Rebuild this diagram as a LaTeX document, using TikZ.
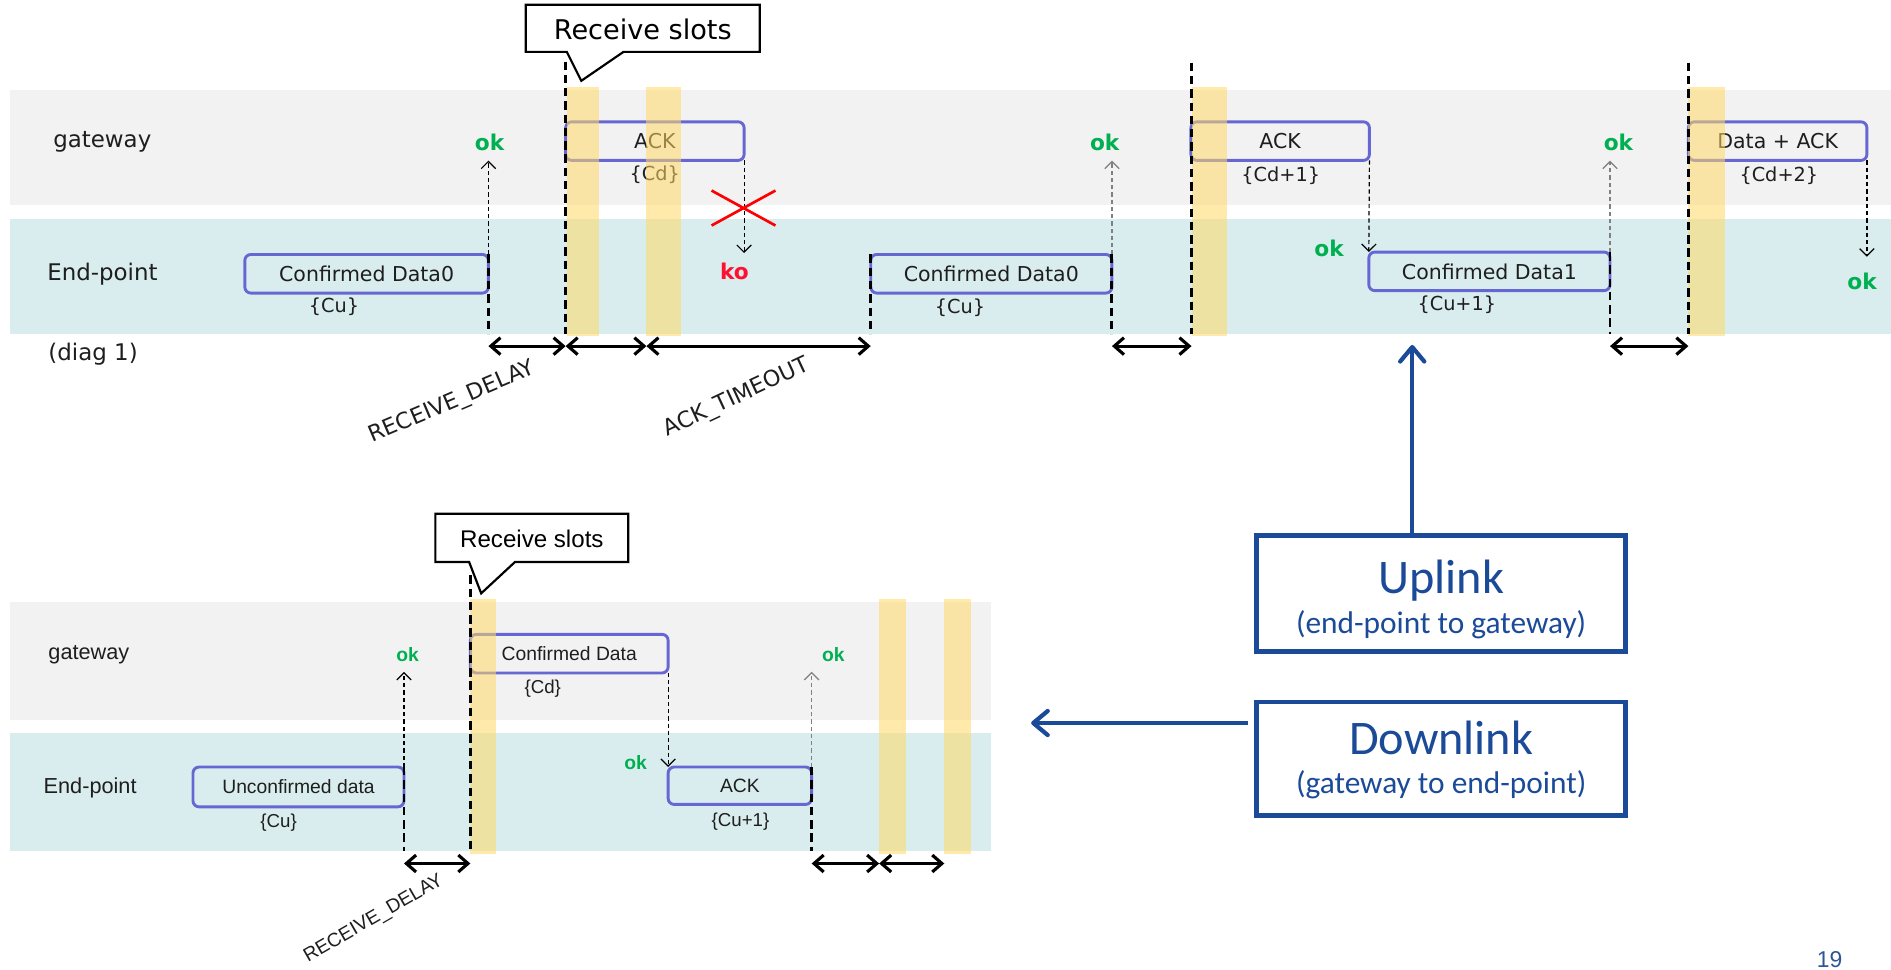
\documentclass[tikz,border=0pt]{standalone}
\usepackage{fontspec}
\setmainfont{DejaVu Sans}
\newfontfamily\vfont{DejaVu Sans}
\newfontfamily\afont{Liberation Sans}
\newfontfamily\cfont{Carlito}
\usetikzlibrary{arrows.meta}
\newcommand\sz[1]{\fontsize{#1}{#1}\selectfont}

\definecolor{gwband}{HTML}{F2F2F2}
\definecolor{epband}{HTML}{DAEDEE}
\definecolor{slot}{HTML}{FFD966}
\definecolor{boxline}{HTML}{6767D3}
\definecolor{okgreen}{HTML}{00B050}
\definecolor{kored}{HTML}{FF1030}
\definecolor{linkblue}{HTML}{1A4A98}
\definecolor{pagenum}{HTML}{2F5597}
\definecolor{txt}{HTML}{1E1E1E}

\begin{document}
\begin{tikzpicture}[x=1pt,y=-1pt,
  band/.style={fill=#1, draw=none, inner sep=0pt, outer sep=0pt, anchor=north west},
  msgbox/.style={draw=boxline, line width=2.4pt, rounded corners=5pt, inner sep=0pt, outer sep=0pt, text=txt},
  topmsg/.style={msgbox, font=\vfont\sz{17}},
  botmsg/.style={msgbox, font=\afont\sz{16}},
  toplane/.style={font=\vfont\sz{19}, text=txt, inner sep=0pt, anchor=west},
  botlane/.style={font=\afont\sz{18}, text=txt, inner sep=0pt, anchor=west},
  topsub/.style={font=\vfont\sz{16}, text=txt, inner sep=0pt},
  botsub/.style={font=\afont\sz{15.5}, text=txt, inner sep=0pt},
  topok/.style={font=\vfont\bfseries\sz{18}, text=okgreen, inner sep=0pt},
  botok/.style={font=\afont\bfseries\sz{16}, text=okgreen, inner sep=0pt},
  tick/.style={draw=black, line width=2.4pt, dash pattern=on 7pt off 4pt},
  msgarrow/.style={draw=black, line width=1pt, dash pattern=on 3.5pt off 2.5pt, -{Straight Barb[length=6pt,width=12pt]}},
  span/.style={draw=black, line width=2.6pt, {Straight Barb[length=8pt,width=14pt]}-{Straight Barb[length=8pt,width=14pt]}},
  slotfill/.style={fill=slot, opacity=0.55},
  callout/.style={draw=black, fill=white, line width=1.8pt, line join=miter},
  xmark/.style={draw=red, line width=2.2pt},
  linkbox/.style={draw=linkblue, line width=3.8pt, inner sep=0pt, outer sep=0pt},
  linktitle/.style={font=\cfont\sz{40}, text=linkblue, anchor=base, inner sep=0pt},
  linksub/.style={font=\cfont\sz{26}, text=linkblue, anchor=base, inner sep=0pt},
  linkarrow/.style={draw=linkblue, line width=3.5pt, -{Straight Barb[length=12pt,width=20pt,round]}}
]
\fill[white] (0,0) rectangle (1568,804);
\useasboundingbox (0,0) rectangle (1568,804);

% ---------------- upper timeline: confirmed uplink with retry ----------------
\node[band=gwband, minimum width=1560pt, minimum height=95pt] (gwband1) at (8,75) {};
\node[band=epband, minimum width=1560pt, minimum height=95pt] (epband1) at (8,182) {};

\node[toplane] (gwlbl1) at (44,118) {gateway};
\node[toplane] (eplbl1) at (39,227) {End-point};
\node[toplane] (diag) at (40,294) {(diag 1)};

\node[topmsg, minimum width=202pt, minimum height=32pt] (cd0a) at (304,227) {Confirmed Data0};
\node[topmsg, minimum width=148pt, minimum height=32pt] (ack1) at (543,117) {ACK};
\node[topmsg, minimum width=200pt, minimum height=32pt] (cd0b) at (822,227) {Confirmed Data0};
\node[topmsg, minimum width=148pt, minimum height=32pt] (ack2) at (1061.5,117) {ACK};
\node[topmsg, minimum width=200pt, minimum height=32pt] (cd1) at (1235,225) {Confirmed Data1};
\node[topmsg, minimum width=148pt, minimum height=32pt] (dack) at (1474,117) {Data + ACK};

\node[topsub] (cu1) at (277,254) {\{Cu\}};
\node[topsub] (cdl1) at (543,145) {\{Cd\}};
\node[topsub] (cu2) at (796,255) {\{Cu\}};
\node[topsub] (cdl2) at (1062,146) {\{Cd+1\}};
\node[topsub] (cu3) at (1208,253) {\{Cu+1\}};
\node[topsub] (cdl3) at (1475,146) {\{Cd+2\}};

\node[topok] (ok1) at (406,118) {ok};
\node[topok] (ok2) at (916,118) {ok};
\node[topok] (ok3) at (1102,206) {ok};
\node[topok] (ok4) at (1342,118) {ok};
\node[topok] (ok5) at (1544,233) {ok};
\node[font=\vfont\bfseries\sz{18}, text=kored, inner sep=0pt] (ko) at (609,225) {ko};

% receive windows
\fill[slotfill] (470,72) rectangle (497,279);
\fill[slotfill] (536,72) rectangle (565,279);
\fill[slotfill] (988,72) rectangle (1017,279);
\fill[slotfill] (1400,72) rectangle (1430,279);

% time markers
\coordinate (s1top) at (469,51);
\coordinate (s3top) at (988,52);
\coordinate (s4top) at (1400,52);
\draw[tick] (cd0a.north east) -- (cd0a.north east |- epband1.south);
\draw[tick] (s1top) -- (s1top |- epband1.south);
\draw[tick] (cd0b.north west) -- (cd0b.north west |- epband1.south);
\draw[tick] (cd0b.north east) -- (cd0b.north east |- epband1.south);
\draw[tick] (s3top) -- (s3top |- epband1.south);
\draw[tick] (cd1.north east) -- (cd1.north east |- epband1.south);
\draw[tick] (s4top) -- (s4top |- epband1.south);

% messages
\draw[msgarrow, shorten >=8pt] (cd0a.north east) -- (cd0a.north east |- ok1.south);
\draw[msgarrow, shorten >=8pt] (ack1.south east) -- (ack1.south east |- ko.north);
\draw[msgarrow, draw=gray, shorten >=8pt] (cd0b.north east) -- (cd0b.north east |- ok2.south);
\draw[msgarrow] (ack2.south east) -- (cd1.north west);
\draw[msgarrow, draw=gray, shorten >=8pt] (cd1.north east) -- (cd1.north east |- ok4.south);
\draw[msgarrow, shorten >=13pt] (dack.south east) -- (dack.south east |- ok5.north);

\draw[xmark] (590,158) -- (643,187);
\draw[xmark] (590,187) -- (643,158);

% delays
\coordinate (r1) at (405,287);
\coordinate (r2) at (469,287);
\coordinate (r3) at (536,287);
\coordinate (r4) at (722,287);
\coordinate (r5) at (922,287);
\coordinate (r6) at (988,287);
\coordinate (r7) at (1335,287);
\coordinate (r8) at (1400,287);
\draw[span] (r1) -- (r2);
\draw[span] (r2) -- (r3);
\draw[span] (r3) -- (r4);
\draw[span] (r5) -- (r6);
\draw[span] (r7) -- (r8);

\node[font=\vfont\sz{18.5}, text=txt, rotate=23, inner sep=0pt] (rxd1) at (375,334) {RECEIVE\_DELAY};
\node[font=\vfont\sz{18.5}, text=txt, rotate=25, inner sep=0pt] (ackto) at (611,330) {ACK\_TIMEOUT};

\draw[callout] (436,4) -- (630,4) -- (630,43) -- (517,43) -- (482,67) -- (470,43) -- (436,43) -- cycle;
\node[font=\vfont\sz{22.5}, text=black, inner sep=0pt] (rslots1) at (533,24) {Receive slots};

% ---------------- lower timeline: unconfirmed uplink ----------------
\node[band=gwband, minimum width=814pt, minimum height=98pt] (gwband2) at (8,499) {};
\node[band=epband, minimum width=814pt, minimum height=98pt] (epband2) at (8,608) {};

\node[botlane] (gwlbl2) at (40,543) {gateway};
\node[botlane] (eplbl2) at (36,653) {End-point};

\node[botmsg, minimum width=175pt, minimum height=33pt] (ucd) at (247.5,652.5) {Unconfirmed data};
\node[botmsg, minimum width=164pt, minimum height=32pt] (cdd) at (472,542) {Confirmed Data};
\node[botmsg, minimum width=119pt, minimum height=31pt] (back) at (613.5,651.5) {ACK};

\node[botsub] (cu4) at (231,682) {\{Cu\}};
\node[botsub] (cdl4) at (450,571) {\{Cd\}};
\node[botsub] (cu5) at (614,681) {\{Cu+1\}};

\node[botok] (okb1) at (338,543) {ok};
\node[botok] (okb2) at (527,632) {ok};
\node[botok] (okb3) at (691,543) {ok};

\fill[slotfill] (390,497) rectangle (411,708);
\fill[slotfill] (729,497) rectangle (751,708);
\fill[slotfill] (783,497) rectangle (805,708);

\coordinate (s5top) at (390,477);
\draw[tick] (ucd.north east) -- (ucd.north east |- epband2.south);
\draw[tick] (s5top) -- (s5top |- epband2.south);
\draw[tick] (back.north east) -- (back.north east |- epband2.south);

\draw[msgarrow, shorten >=8pt] (ucd.north east) -- (ucd.north east |- okb1.south);
\draw[msgarrow] (cdd.south east) -- (back.north west);
\draw[msgarrow, draw=gray, shorten >=8pt] (back.north east) -- (back.north east |- okb3.south);

\coordinate (q1) at (335,716);
\coordinate (q2) at (390,716);
\coordinate (q3) at (673,716);
\coordinate (q4) at (729,716);
\coordinate (q5) at (783,716);
\draw[span] (q1) -- (q2);
\draw[span] (q3) -- (q4);
\draw[span] (q4) -- (q5);

\node[font=\afont\sz{16}, text=txt, rotate=30, inner sep=0pt] (rxd2) at (310,762) {RECEIVE\_DELAY};

\draw[callout] (361,426) -- (521,426) -- (521,466) -- (427,466) -- (399,492) -- (389,466) -- (361,466) -- cycle;
\node[font=\afont\sz{20}, text=black, inner sep=0pt] (rslots2) at (441,447) {Receive slots};

% ---------------- legend ----------------
\node[linkbox, minimum width=306pt, minimum height=96pt] (uplink) at (1195,492) {};
\node[linktitle] (uplinkt) at (1195,492) {Uplink};
\node[linksub] (uplinks) at (1195,525) {(end-point to gateway)};

\node[linkbox, minimum width=306pt, minimum height=94pt] (downlink) at (1195,629) {};
\node[linktitle] (downlinkt) at (1195,626) {Downlink};
\node[linksub] (downlinks) at (1195,658) {(gateway to end-point)};

\coordinate (uptip) at (1171,286);
\draw[linkarrow] (uptip |- uplink.north) -- (uptip);
\coordinate (dntip) at (855,599.5);
\draw[linkarrow] (downlink.west |- dntip) ++(-7,0) -- (dntip);

\node[font=\afont\sz{19}, text=pagenum, anchor=base, inner sep=0pt] (pgno) at (1517,802) {19};
\end{tikzpicture}
\end{document}
